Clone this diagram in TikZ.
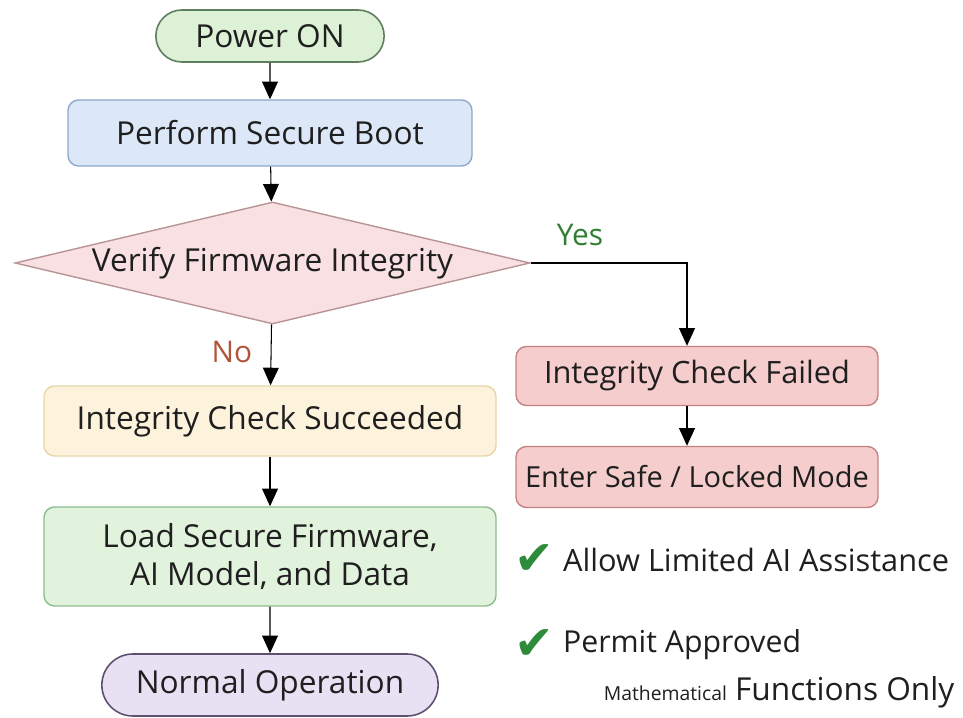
\documentclass[tikz,border=0pt]{standalone}
\usepackage{fontspec}
\setmainfont{Open Sans}
\newfontfamily\symfont{DejaVu Sans}
\usetikzlibrary{shapes.geometric,shapes.misc,arrows.meta,positioning}

\definecolor{startfill}{HTML}{DDF1D6}
\definecolor{startline}{HTML}{5E7E5E}
\definecolor{bootfill}{HTML}{DCE8F8}
\definecolor{bootline}{HTML}{8FA8C8}
\definecolor{checkfill}{HTML}{F9E1E3}
\definecolor{checkline}{HTML}{B89494}
\definecolor{okfill}{HTML}{FDF3DC}
\definecolor{okline}{HTML}{E6D6A8}
\definecolor{loadfill}{HTML}{E2F3DD}
\definecolor{loadline}{HTML}{8CBC8C}
\definecolor{failfill}{HTML}{F6CDCD}
\definecolor{failline}{HTML}{C48282}
\definecolor{endfill}{HTML}{E8E1F4}
\definecolor{endline}{HTML}{5E5070}
\definecolor{yescol}{HTML}{2E7D32}
\definecolor{nocol}{HTML}{B0553C}
\definecolor{tickcol}{HTML}{2E8B3A}

\tikzset{
  txt/.style={font=\fontsize{18}{22}\selectfont, text=black!88},
  term/.style={txt, draw, rounded rectangle, line width=0.9pt},
  proc/.style={txt, draw, rounded corners=6pt, line width=0.8pt, align=center},
  decide/.style={txt, draw, diamond, aspect=4.22, inner sep=0pt, line width=0.8pt},
  note/.style={txt, anchor=west},
  tick/.style={text=tickcol, font=\symfont\fontsize{27}{27}\selectfont},
}

\begin{document}
\begin{tikzpicture}[>={Triangle[length=10pt,width=9pt]}, line width=0.6pt]
		\useasboundingbox (0,0) rectangle (19.26,-14.36);
		\draw
		node[term, fill=startfill, draw=startline, minimum width=4.8cm, minimum height=1.04cm] at (5.4,-0.72) (power) {Power ON}
		node[proc, fill=bootfill, draw=bootline, minimum width=8.08cm, minimum height=1.32cm] at (5.4,-2.66) (boot) {Perform Secure Boot}
		node[decide, fill=checkfill, draw=checkline, minimum width=10.3cm, minimum height=2.44cm] at (5.45,-5.26) (verify) {Verify Firmware Integrity}
		node[txt, text=yescol, font=\fontsize{17}{20}\selectfont] at (11.6,-4.7) (yes) {Yes}
		node[txt, text=nocol, font=\fontsize{17}{20}\selectfont] at (4.64,-7.04) (no) {No}
		node[proc, fill=failfill, draw=failline, minimum width=7.24cm, minimum height=1.18cm, font=\fontsize{17.5}{21}\selectfont] at (13.94,-7.52) (failed) {Integrity Check Failed}
		node[proc, fill=failfill, draw=failline, minimum width=7.24cm, minimum height=1.22cm, font=\fontsize{16.5}{20}\selectfont] at (13.94,-9.54) (safe) {Enter Safe / Locked Mode}
		node[proc, fill=okfill, draw=okline, minimum width=9.04cm, minimum height=1.4cm] at (5.4,-8.42) (succ) {Integrity Check Succeeded}
		node[proc, fill=loadfill, draw=loadline, minimum width=9.04cm, minimum height=1.98cm] at (5.4,-11.13) (load) {Load Secure Firmware,\\AI Model, and Data}
		node[term, fill=endfill, draw=endline, minimum width=6.96cm, minimum height=1.24cm] at (5.4,-13.7) (normal) {Normal Operation}
		;
		\coordinate (turn) at (13.74,-5.26);
		\draw[->] (power) -- (boot);
		\draw[->] (boot) -- (verify);
		\draw[->] (verify.east) -- (turn) -- (turn |- failed.north);
		\draw[->] (failed.south -| turn) -- (turn |- safe.north);
		\draw[->] (verify) -- (succ);
		\draw[->] (succ) -- (load);
		\draw[->] (load) -- (normal);
		% notes on the right
		\node[tick] at (10.68,-11.2) (tick1) {✔};
		\node[note, right=-2pt of tick1, font=\fontsize{17.5}{21}\selectfont] (allow) {Allow Limited AI Assistance};
		\node[tick] at (10.68,-12.9) (tick2) {✔};
		\node[note, right=-2pt of tick2, font=\fontsize{17.2}{21}\selectfont] (permit) {Permit Approved};
		\node[note] at (11.95,-13.84) (math) {{\fontsize{11}{13}\selectfont Mathematical} Functions Only};
\end{tikzpicture}
\end{document}
